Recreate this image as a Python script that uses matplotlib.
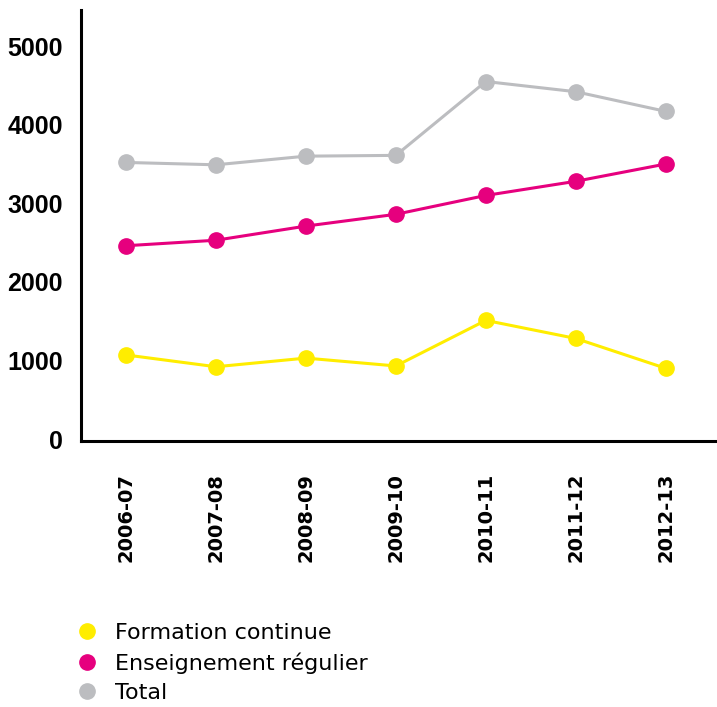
import matplotlib.pyplot as plt
from matplotlib.lines import Line2D

# Effectifs par année scolaire
annees = ["2006-07", "2007-08", "2008-09", "2009-10", "2010-11", "2011-12", "2012-13"]
formation_continue = [1070, 920, 1030, 930, 1510, 1280, 900]
enseignement_regulier = [2460, 2530, 2710, 2860, 3100, 3280, 3500]
total = [3520, 3490, 3600, 3610, 4550, 4420, 4170]

jaune = "#FFED00"
magenta = "#E6007E"
gris = "#BCBDC0"

fig = plt.figure(figsize=(7.17, 7.07), dpi=100)
ax = fig.add_axes([81 / 717, 1 - 441 / 707, 1 - 81 / 717, 431 / 707])

x = range(len(annees))
series = [
    (formation_continue, jaune, "Formation continue"),
    (enseignement_regulier, magenta, "Enseignement régulier"),
    (total, gris, "Total"),
]
for vals, col, lab in series:
    ax.plot(x, vals, color=col, lw=2.2, marker="o", ms=11, zorder=3)

ax.set_xlim(-0.5, 6.57)
ax.set_ylim(-25, 5460)
ax.set_yticks([0, 1000, 2000, 3000, 4000, 5000])
ax.set_xticks(list(x))
ax.set_xticklabels(annees, rotation=90, fontsize=14, fontweight="bold",
                   family="DejaVu Sans", va="top")
for t in ax.get_yticklabels():
    t.set_fontsize(18)
    t.set_fontweight("bold")
    t.set_family("Liberation Sans")
ax.tick_params(axis="both", length=0)
ax.tick_params(axis="y", pad=13)
ax.tick_params(axis="x", pad=23)

for s in ["top", "right"]:
    ax.spines[s].set_visible(False)
for s in ["left", "bottom"]:
    ax.spines[s].set_linewidth(2.2)
    ax.spines[s].set_color("black")

handles = [Line2D([], [], color=col, marker="o", linestyle="none", ms=11)
           for _, col, _ in series]
labels = [lab for _, _, lab in series]
fig.legend(handles, labels, loc="upper left", bbox_to_anchor=(74 / 717, 1 - 623 / 707),
           frameon=False, fontsize=16, handletextpad=0.65, labelspacing=0.42,
           borderpad=0, borderaxespad=0, handlelength=1.2)

fig.savefig("out.png", dpi=100)
